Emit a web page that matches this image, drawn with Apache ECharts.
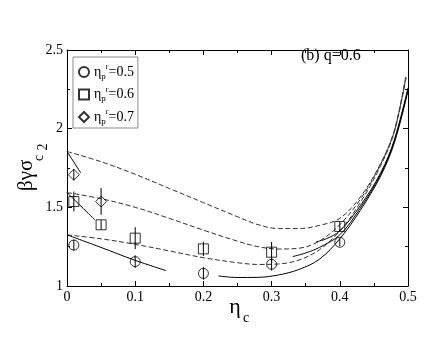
<!DOCTYPE html>
<html>
<head>
<meta charset="utf-8">
<script src="https://cdn.jsdelivr.net/npm/echarts@6/dist/echarts.min.js"></script>
<style>
html, body { margin: 0; padding: 0; background: #fff; }
#chart { width: 436px; height: 337px; }
</style>
</head>
<body>
<div id="chart"></div>
<script>
// simulation points, [eta_c, beta*gamma*sigma_c^2]
const circles05 = [[0.01, 1.26], [0.1, 1.155], [0.2, 1.08], [0.3, 1.138], [0.4, 1.278]];
const circlesErr = [0.035, 0.04, 0.04, 0.04, 0.025];
const squares06 = [[0.01, 1.537], [0.05, 1.389], [0.1, 1.304], [0.2, 1.236], [0.3, 1.215], [0.4, 1.378]];
const squaresErr = [0.063, 0.03, 0.07, 0.045, 0.065, 0.03];
const diamonds07 = [[0.01, 1.707], [0.05, 1.537]];
const diamondsErr = [0.035, 0.085];

// theory curves (dashed)
const dashed07 = [[0, 1.855], [0.05, 1.79], [0.1, 1.71], [0.15, 1.62], [0.2, 1.53], [0.25, 1.44], [0.28, 1.39],
  [0.31, 1.365], [0.34, 1.365], [0.37, 1.385], [0.4, 1.43], [0.43, 1.565], [0.46, 1.78], [0.48, 1.99], [0.497, 2.34]];
const dashed06 = [[0, 1.594], [0.05, 1.555], [0.1, 1.50], [0.15, 1.43], [0.2, 1.355], [0.25, 1.285], [0.28, 1.25],
  [0.31, 1.235], [0.34, 1.24], [0.37, 1.285], [0.4, 1.39], [0.43, 1.55], [0.46, 1.775], [0.48, 1.985], [0.497, 2.33]];
const dashed05 = [[0, 1.325], [0.05, 1.30], [0.1, 1.265], [0.15, 1.223], [0.2, 1.18], [0.25, 1.148], [0.28, 1.137],
  [0.31, 1.14], [0.34, 1.165], [0.37, 1.23], [0.4, 1.35], [0.43, 1.53], [0.46, 1.765], [0.48, 1.98], [0.497, 2.32]];

// theory curves (solid)
const solid07Low = [[0, 1.855], [0.02, 1.72]];
const solid06Low = [[0, 1.594], [0.041, 1.42]];
const solid05Low = [[0, 1.325], [0.05, 1.245], [0.1, 1.163], [0.145, 1.098]];
const solid05High = [[0.222, 1.064], [0.25, 1.054], [0.28, 1.055], [0.31, 1.07], [0.34, 1.105], [0.37, 1.17],
  [0.4, 1.30], [0.43, 1.48], [0.46, 1.70], [0.48, 1.91], [0.5, 2.24]];
const solid06High = [[0.331, 1.187], [0.35, 1.21], [0.37, 1.245], [0.4, 1.325], [0.43, 1.495], [0.46, 1.71],
  [0.48, 1.92], [0.5, 2.25]];
const solid07High = [[0.365, 1.28], [0.38, 1.30], [0.4, 1.35], [0.43, 1.51], [0.46, 1.72], [0.48, 1.93], [0.5, 2.26]];

const legendNames = ['r05', 'r06', 'r07'];
const legendValues = ['0.5', '0.6', '0.7'];

const serif = 'Liberation Serif';
const chart = echarts.init(document.getElementById('chart'));

function errData(points, errs) {
  return points.map((p, i) => [p[0], p[1] - errs[i], p[1] + errs[i]]);
}

function errorBar(params, api) {
  const x = api.value(0);
  const lo = api.coord([x, api.value(1)]);
  const hi = api.coord([x, api.value(2)]);
  return {
    type: 'line',
    shape: { x1: lo[0], y1: lo[1], x2: hi[0], y2: hi[1] },
    style: { stroke: '#000', lineWidth: 1 }
  };
}

function curve(data, dashed) {
  return {
    type: 'line',
    data: data,
    symbol: 'none',
    smooth: 0.35,
    silent: true,
    z: 2,
    lineStyle: dashed
      ? { color: '#333', width: 1, type: [5, 2.5] }
      : { color: '#000', width: 1 }
  };
}

function bars(data, errs) {
  return {
    type: 'custom',
    data: errData(data, errs),
    encode: { x: 0, y: [1, 2] },
    renderItem: errorBar,
    silent: true,
    z: 3
  };
}

const markerStyle = { color: 'rgba(0,0,0,0)', borderColor: '#000', borderWidth: 1 };

const tickStyle = { show: true, inside: true, length: 5, lineStyle: { color: '#000' } };
const minor = { show: true, splitNumber: 2, length: 3, lineStyle: { color: '#000' } };
const lineStyle = { show: true, onZero: false, lineStyle: { color: '#000', width: 1 } };

const option = {
  animation: false,
  backgroundColor: '#fff',
  grid: { left: 67, right: 28, top: 50, bottom: 51 },
  xAxis: [{
    type: 'value', min: 0, max: 0.5, interval: 0.1, position: 'bottom',
    axisLine: lineStyle, axisTick: tickStyle, minorTick: minor, splitLine: { show: false },
    axisLabel: { fontFamily: serif, fontSize: 14, color: '#000', margin: 4 }
  }, {
    type: 'value', min: 0, max: 0.5, interval: 0.1, position: 'top',
    axisLine: lineStyle, axisTick: tickStyle, minorTick: minor, splitLine: { show: false },
    axisLabel: { show: false }
  }],
  yAxis: [{
    type: 'value', min: 1, max: 2.5, interval: 0.5, position: 'left',
    axisLine: lineStyle, axisTick: tickStyle, minorTick: minor, splitLine: { show: false },
    axisLabel: { fontFamily: serif, fontSize: 14, color: '#000', margin: 4 }
  }, {
    type: 'value', min: 1, max: 2.5, interval: 0.5, position: 'right',
    axisLine: lineStyle, axisTick: tickStyle, minorTick: minor, splitLine: { show: false },
    axisLabel: { show: false }
  }],
  legend: {
    orient: 'vertical',
    left: 73, top: 57,
    padding: [6, 4, 2, 5],
    itemGap: 4.5,
    itemWidth: 10, itemHeight: 10,
    borderColor: '#888', borderWidth: 1,
    backgroundColor: '#fff',
    data: legendNames,
    formatter: name => '{e|η}{s|p}{t|r}{e|=' + legendValues[legendNames.indexOf(name)] + '}',
    textStyle: {
      fontFamily: serif, fontSize: 13, color: '#000',
      rich: {
        e: { fontFamily: serif, fontSize: 14, lineHeight: 18 },
        s: { fontFamily: serif, fontSize: 9, lineHeight: 10, verticalAlign: 'bottom' },
        t: { fontFamily: serif, fontSize: 8, lineHeight: 9, verticalAlign: 'top' }
      }
    }
  },
  series: [
    curve(dashed07, true), curve(dashed06, true), curve(dashed05, true),
    curve(solid07Low, false), curve(solid06Low, false), curve(solid05Low, false),
    curve(solid05High, false), curve(solid06High, false), curve(solid07High, false),
    bars(circles05, circlesErr), bars(squares06, squaresErr), bars(diamonds07, diamondsErr),
    { name: 'r05', type: 'scatter', data: circles05, symbol: 'circle', symbolSize: 10, itemStyle: markerStyle, z: 4 },
    { name: 'r06', type: 'scatter', data: squares06, symbol: 'rect', symbolSize: 10, itemStyle: markerStyle, z: 4 },
    { name: 'r07', type: 'scatter', data: diamonds07, symbol: 'diamond', symbolSize: 11, itemStyle: markerStyle, z: 4 }
  ],
  graphic: [
    { type: 'text', left: 301, top: 48, style: { text: '(b) q=0.6', font: '16px "Liberation Serif"', fill: '#000' } },
    { type: 'text', x: 235, y: 307, style: { text: 'η', font: '22px "Liberation Serif"', fill: '#000', align: 'center', verticalAlign: 'middle' } },
    { type: 'text', x: 243, y: 318, style: { text: 'c', font: '14px "Liberation Serif"', fill: '#000', align: 'left', verticalAlign: 'middle' } },
    { type: 'text', x: 26, y: 191, rotation: Math.PI / 2, style: { text: 'βγσ', font: '21px "Liberation Serif"', fill: '#000', align: 'left', verticalAlign: 'middle' } },
    { type: 'text', x: 39, y: 158, rotation: Math.PI / 2, style: { text: 'c', font: '14px "Liberation Serif"', fill: '#000', align: 'center', verticalAlign: 'middle' } },
    { type: 'text', x: 43, y: 147, rotation: Math.PI / 2, style: { text: '2', font: '14px "Liberation Serif"', fill: '#000', align: 'center', verticalAlign: 'middle' } }
  ]
};

chart.setOption(option);
</script>
</body>
</html>
